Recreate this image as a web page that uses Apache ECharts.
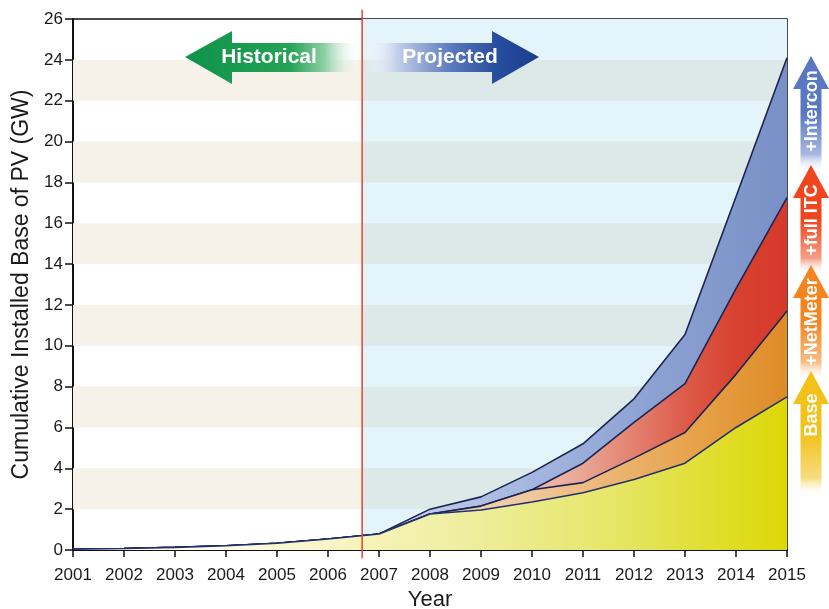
<!DOCTYPE html>
<html>
<head>
<meta charset="utf-8">
<script src="https://cdn.jsdelivr.net/npm/echarts@6/dist/echarts.min.js"></script>
<style>
html,body{margin:0;padding:0;background:#fff;}
#chart{width:829px;height:609px;}
</style>
</head>
<body>
<div id="chart"></div>
<script>
// ---- data ----
const years     = [2001, 2002, 2003, 2004, 2005, 2006, 2007, 2008, 2009, 2010, 2011, 2012, 2013, 2014, 2015];
const base      = [0.04, 0.07, 0.13, 0.21, 0.33, 0.54, 0.78, 1.76, 1.96, 2.35, 2.80, 3.45, 4.25, 6.00, 7.50];
const netMeter  = [0.04, 0.07, 0.13, 0.21, 0.33, 0.54, 0.78, 1.76, 2.15, 2.95, 3.30, 4.50, 5.75, 8.60, 11.70];
const fullITC   = [0.04, 0.07, 0.13, 0.21, 0.33, 0.54, 0.78, 1.76, 2.15, 2.95, 4.25, 6.25, 8.15, 12.80, 17.25];
const intercon  = [0.04, 0.07, 0.13, 0.21, 0.33, 0.54, 0.78, 2.00, 2.60, 3.80, 5.20, 7.40, 10.55, 17.30, 24.10];
const splitYear = 2006.67;               // historical / projected boundary
const dividerSpan = [-0.4, 26.45];       // divider runs a little past the plot frame
const stripeBands = [[2,4],[6,8],[10,12],[14,16],[18,20],[22,24]];
const yTicks = {min: 0, max: 26, interval: 2};
const xTicks = {min: 2001, max: 2015, interval: 1};

const pairs = arr => years.map((y, i) => [y, arr[i]]);
const LG = (stops) => new echarts.graphic.LinearGradient(0, 0, 1, 0, stops);

const chart = echarts.init(document.getElementById('chart'), null, {renderer: 'canvas'});

// background bands
const areaData = [];
areaData.push([{xAxis: splitYear, yAxis: yTicks.min, itemStyle: {color: '#e3f4fb'}}, {xAxis: xTicks.max, yAxis: yTicks.max}]);
stripeBands.forEach(b => {
  areaData.push([{xAxis: xTicks.min, yAxis: b[0], itemStyle: {color: '#f6f2ea'}}, {xAxis: splitYear, yAxis: b[1]}]);
  areaData.push([{xAxis: splitYear, yAxis: b[0], itemStyle: {color: '#dde9e8'}}, {xAxis: xTicks.max, yAxis: b[1]}]);
});

const outline = {color: '#1c2452', width: 1.6};
const regular = '"Liberation Sans", Arial, sans-serif';
const txt = (text, x, y, size, rot) => ({
  type: 'text', z: 101, x: x, y: y, rotation: rot || 0,
  style: {text: text, fill: '#ffffff', font: 'bold ' + size + 'px ' + regular, align: 'center', verticalAlign: 'middle', textAlign: 'center', textVerticalAlign: 'middle'}
});

function sideArrow(cx, tip, end, color, fade, label, ty) {
  const hw = 18, sw = 10.5, hh = 33;
  return [{
    type: 'polygon', z: 100,
    shape: {points: [[cx, tip], [cx + hw, tip + hh], [cx + sw, tip + hh], [cx + sw, end], [cx - sw, end], [cx - sw, tip + hh], [cx - hw, tip + hh]]},
    style: {fill: new echarts.graphic.LinearGradient(0, 0, 0, 1, [
      {offset: 0, color: color}, {offset: 0.5, color: color}, {offset: 0.85, color: fade}, {offset: 1, color: 'rgba(255,255,255,0)'}])}
  }, txt(label, cx + 1, ty, 18, Math.PI / 2)];
}

const graphics = [
  {
    type: 'polygon', z: 100,
    shape: {points: [[185, 57], [232, 31], [232, 43], [360, 43], [360, 72], [232, 72], [232, 84]]},
    style: {fill: new echarts.graphic.LinearGradient(0, 0, 1, 0, [
      {offset: 0, color: '#10924a'}, {offset: 0.6, color: '#24a356'}, {offset: 0.8, color: '#8fd0a4'}, {offset: 1, color: 'rgba(255,255,255,0)'}])}
  },
  txt('Historical', 269, 57, 21),
  {
    type: 'polygon', z: 100,
    shape: {points: [[365, 43], [492, 43], [492, 31], [539, 57], [492, 84], [492, 72], [365, 72]]},
    style: {fill: new echarts.graphic.LinearGradient(0, 0, 1, 0, [
      {offset: 0, color: 'rgba(255,255,255,0)'}, {offset: 0.18, color: '#c5d1ea'}, {offset: 0.5, color: '#5a78bc'}, {offset: 0.75, color: '#284e9e'}, {offset: 1, color: '#1a3d8e'}])}
  },
  txt('Projected', 450, 57, 21),
  ...sideArrow(811, 56, 172, '#5a78c2', '#a8b8e0', '+Intercon', 111),
  ...sideArrow(811, 165, 275, '#f0461f', '#f4a088', '+full ITC', 220),
  ...sideArrow(811, 265, 380, '#f5841f', '#f8bf88', '+NetMeter', 322),
  ...sideArrow(811, 371, 497, '#f2c21a', '#f6dc80', 'Base', 415)
];

const option = {
  backgroundColor: '#ffffff',
  animation: false,
  grid: {left: 73, right: 42, top: 19, bottom: 59, show: true, borderColor: '#111', borderWidth: 1.5, backgroundColor: 'transparent', containLabel: false, outerBoundsMode: 'none'},
  xAxis: {
    type: 'value', min: xTicks.min, max: xTicks.max, interval: xTicks.interval,
    name: 'Year', nameLocation: 'middle', nameGap: 39,
    nameTextStyle: {fontSize: 22, color: '#1a1a1a', fontFamily: regular},
    axisLine: {show: true, lineStyle: {color: '#111', width: 2}},
    axisTick: {show: true, length: 7, lineStyle: {color: '#111', width: 1.5}},
    axisLabel: {fontSize: 17, color: '#1a1a1a', fontFamily: regular, margin: 17, formatter: v => String(v)},
    splitLine: {show: false}
  },
  yAxis: {
    type: 'value', min: yTicks.min, max: yTicks.max, interval: yTicks.interval,
    name: 'Cumulative Installed Base of PV (GW)', nameLocation: 'middle', nameGap: 39,
    nameTextStyle: {fontSize: 23, color: '#1a1a1a', fontFamily: regular},
    axisLine: {show: true, lineStyle: {color: '#111', width: 2}},
    axisTick: {show: true, length: 8, lineStyle: {color: '#111', width: 1.5}},
    axisLabel: {fontSize: 17, color: '#1a1a1a', fontFamily: regular, margin: 10},
    splitLine: {show: false}
  },
  series: [
    {
      type: 'line', name: 'bg', z: 1, data: [], silent: true, clip: false,
      markArea: {silent: true, label: {show: false}, data: areaData}
    },
    {
      type: 'line', name: '+Intercon', z: 2, data: pairs(intercon), symbol: 'none',
      lineStyle: outline,
      areaStyle: {opacity: 1, color: LG([{offset: 0, color: '#d4dcf0'}, {offset: 0.45, color: '#c4d0ec'}, {offset: 0.6, color: '#aabbe2'}, {offset: 0.8, color: '#8ea3d3'}, {offset: 1, color: '#7890c6'}])}
    },
    {
      type: 'line', name: '+full ITC', z: 3, data: pairs(fullITC), symbol: 'none',
      lineStyle: outline,
      areaStyle: {opacity: 1, color: LG([{offset: 0, color: '#f4d8cc'}, {offset: 0.6, color: '#f0c8b8'}, {offset: 0.71, color: '#e9a896'}, {offset: 0.86, color: '#dd5a48'}, {offset: 0.93, color: '#d8412f'}, {offset: 1, color: '#d6392c'}])}
    },
    {
      type: 'line', name: '+NetMeter', z: 4, data: pairs(netMeter), symbol: 'none',
      lineStyle: outline,
      areaStyle: {opacity: 1, color: LG([{offset: 0, color: '#f6e2c8'}, {offset: 0.5, color: '#f3dcc0'}, {offset: 0.64, color: '#efc89c'}, {offset: 0.86, color: '#e7a44c'}, {offset: 1, color: '#df8b26'}])}
    },
    {
      type: 'line', name: 'Base', z: 5, data: pairs(base), symbol: 'none',
      lineStyle: {color: '#23306e', width: 1.6},
      areaStyle: {opacity: 1, color: LG([{offset: 0, color: '#ffffff'}, {offset: 0.2, color: '#fcfbe8'}, {offset: 0.42, color: '#f6f3b6'}, {offset: 0.55, color: '#eeeea0'}, {offset: 0.75, color: '#e6e66a'}, {offset: 1, color: '#dcd806'}])}
    }
  ],
  graphic: {elements: graphics}
};
chart.setOption(option);

// red divider between historical and projected, placed through the axis scales
const dx = chart.convertToPixel({xAxisIndex: 0}, splitYear);
const dyTop = chart.convertToPixel({yAxisIndex: 0}, dividerSpan[1]);
const dyBot = chart.convertToPixel({yAxisIndex: 0}, dividerSpan[0]);
chart.setOption({graphic: {elements: graphics.concat([{
  type: 'line', z: 99,
  shape: {x1: dx, y1: dyTop, x2: dx, y2: dyBot},
  style: {stroke: '#e8412f', lineWidth: 1.5}
}])}});
</script>
</body>
</html>
